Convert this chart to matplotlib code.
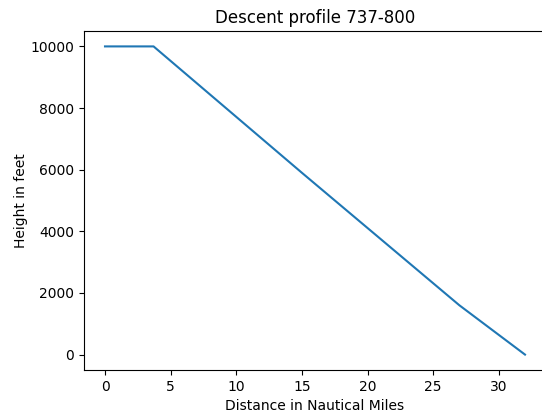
import matplotlib
matplotlib.use("Agg")
import matplotlib.pyplot as plt

# descent profile
distance_nm = [0, 3.7, 15, 27, 32]
height_ft = [10000, 10000, 5900, 1600, 0]

fig = plt.figure(figsize=(5.42, 4.12), dpi=100)
ax = fig.add_axes([84 / 542, 42 / 412, 462 / 542, 339 / 412])

ax.plot(distance_nm, height_ft)
ax.set_title("Descent profile 737-800")
ax.set_xlabel("Distance in Nautical Miles")
ax.set_ylabel("Height in feet", labelpad=2)

fig.savefig("out.png", dpi=100)
